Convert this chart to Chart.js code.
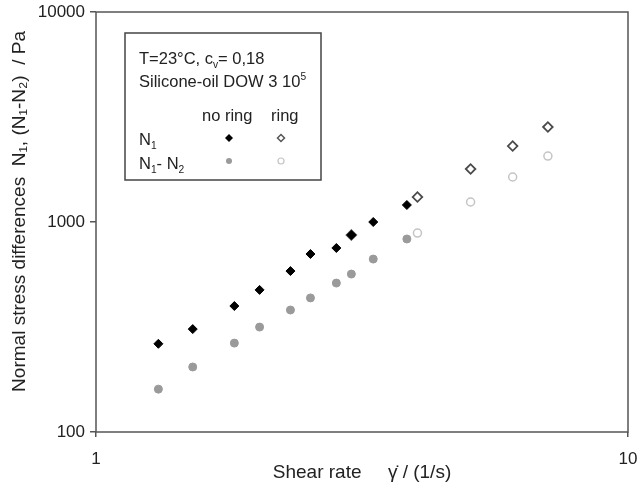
<!DOCTYPE html>
<html>
<head>
<meta charset="utf-8">
<script src="https://cdn.jsdelivr.net/npm/chart.js@4.4.0/dist/chart.umd.min.js"></script>
<style>
  html, body { margin: 0; padding: 0; background: #fff; }
  #wrap { width: 640px; height: 488px; }
</style>
</head>
<body>
<div id="wrap"><canvas id="chart"></canvas></div>
<script>
// shear rate (1/s) and normal stress differences (Pa)
const shearNoRing = [1.31, 1.52, 1.82, 2.03, 2.32, 2.53, 2.83, 3.02, 3.32, 3.84];
const n1NoRing    = [263, 309, 398, 475, 584, 704, 752, 867, 1000, 1205];
const n12NoRing   = [160, 204, 265, 316, 381, 435, 512, 565, 666, 830];

const shearRingN1  = [3.02, 4.02, 5.06, 6.07, 7.07];
const n1Ring       = [867, 1315, 1788, 2300, 2834];
const shearRingN12 = [4.02, 5.06, 6.07, 7.07];
const n12Ring      = [886, 1245, 1638, 2061];

const xTicks = [1, 10];
const yTicks = [100, 1000, 10000];

const FONT = '"Liberation Sans", Arial, sans-serif';
const TXT = '#222';
const AXIS = '#555';

function pts(xs, ys) {
    return xs.map((x, i) => ({ x: x, y: ys[i] }));
}

// draws a line of text made of normal / sub / superscript runs
function drawRuns(ctx, x, y, runs, size) {
    runs.forEach(r => {
        const s = r.small ? size * 0.62 : size;
        ctx.font = s + 'px ' + FONT;
        ctx.fillText(r.t, x, y + (r.dy || 0));
        x += ctx.measureText(r.t).width;
    });
}

const frameAndLegend = {
    id: 'frameAndLegend',
    afterDraw(chart) {
        const ctx = chart.ctx;
        const a = chart.chartArea;
        ctx.save();

        // plot frame
        ctx.strokeStyle = AXIS;
        ctx.lineWidth = 1.5;
        ctx.strokeRect(a.left, a.top, a.right - a.left, a.bottom - a.top);

        // legend box
        const x0 = a.left + 29, y0 = a.top + 21;
        ctx.strokeStyle = '#444';
        ctx.lineWidth = 1.5;
        ctx.strokeRect(x0, y0, 196, 147);

        ctx.fillStyle = TXT;
        ctx.textBaseline = 'alphabetic';
        const fs = 16.5;
        drawRuns(ctx, x0 + 14, y0 + 31, [
            { t: 'T=23°C, c' }, { t: 'v', small: true, dy: 4 }, { t: '= 0,18' }
        ], fs);
        drawRuns(ctx, x0 + 14, y0 + 54, [
            { t: 'Silicone-oil DOW 3 10' }, { t: '5', small: true, dy: -7 }
        ], fs);
        drawRuns(ctx, x0 + 77, y0 + 88, [{ t: 'no ring' }], fs);
        drawRuns(ctx, x0 + 146, y0 + 88, [{ t: 'ring' }], fs);
        drawRuns(ctx, x0 + 14, y0 + 112, [
            { t: 'N' }, { t: '1', small: true, dy: 4 }
        ], fs);
        drawRuns(ctx, x0 + 14, y0 + 136, [
            { t: 'N' }, { t: '1', small: true, dy: 4 }, { t: '- N' }, { t: '2', small: true, dy: 4 }
        ], fs);

        // legend symbols
        const cx1 = x0 + 104, cx2 = x0 + 156;
        const r1 = y0 + 105, r2 = y0 + 128;
        const diamond = (x, y, r) => {
            ctx.beginPath();
            ctx.moveTo(x - r, y); ctx.lineTo(x, y - r);
            ctx.lineTo(x + r, y); ctx.lineTo(x, y + r);
            ctx.closePath();
        };
        diamond(cx1, r1, 4);
        ctx.fillStyle = '#000'; ctx.fill();
        diamond(cx2, r1, 3.5);
        ctx.fillStyle = '#fff'; ctx.fill();
        ctx.strokeStyle = '#555'; ctx.lineWidth = 1.5; ctx.stroke();
        ctx.beginPath(); ctx.arc(cx1, r2, 3, 0, Math.PI * 2);
        ctx.fillStyle = '#9a9a9a'; ctx.fill();
        ctx.beginPath(); ctx.arc(cx2, r2, 3, 0, Math.PI * 2);
        ctx.fillStyle = '#fff'; ctx.fill();
        ctx.strokeStyle = '#c4c4c4'; ctx.lineWidth = 1.2; ctx.stroke();

        ctx.restore();
    }
};

new Chart(document.getElementById('chart'), {
    type: 'scatter',
    data: {
        datasets: [
            {
                label: 'N1 no ring',
                data: pts(shearNoRing, n1NoRing),
                pointStyle: 'rectRot',
                pointRadius: 4.5,
                backgroundColor: '#000',
                borderColor: '#000',
                borderWidth: 1
            },
            {
                label: 'N1-N2 no ring',
                data: pts(shearNoRing, n12NoRing),
                pointStyle: 'circle',
                pointRadius: 4,
                backgroundColor: '#9a9a9a',
                borderColor: '#9a9a9a',
                borderWidth: 1
            },
            {
                label: 'N1 ring',
                data: pts(shearRingN1, n1Ring),
                pointStyle: 'rectRot',
                pointRadius: 4.8,
                backgroundColor: '#fff',
                borderColor: '#4a4a4a',
                borderWidth: 1.8
            },
            {
                label: 'N1-N2 ring',
                data: pts(shearRingN12, n12Ring),
                pointStyle: 'circle',
                pointRadius: 4,
                backgroundColor: '#fff',
                borderColor: '#c4c4c4',
                borderWidth: 1.5
            }
        ]
    },
    options: {
        responsive: true,
        maintainAspectRatio: false,
        animation: false,
        events: [],
        layout: { padding: { top: 12, right: 12, left: 0, bottom: 0 } },
        plugins: {
            legend: { display: false },
            tooltip: { enabled: false }
        },
        scales: {
            x: {
                type: 'logarithmic',
                min: 1,
                max: 10,
                afterBuildTicks: s => { s.ticks = xTicks.map(v => ({ value: v })); },
                afterFit: s => { s.height = 56; s.paddingLeft = 0; s.paddingRight = 0; },
                border: { display: false },
                grid: { drawOnChartArea: false, drawTicks: true, tickLength: 5, color: AXIS, lineWidth: 1.5 },
                ticks: {
                    color: TXT,
                    font: { family: FONT, size: 17 },
                    padding: 12,
                    maxRotation: 0,
                    callback: v => String(v)
                },
                title: {
                    display: true,
                    text: 'Shear rate     γ̇ / (1/s)',
                    color: TXT,
                    font: { family: FONT, size: 19 },
                    padding: { top: 0, bottom: 4 }
                }
            },
            y: {
                type: 'logarithmic',
                min: 100,
                max: 10000,
                afterBuildTicks: s => { s.ticks = yTicks.map(v => ({ value: v })); },
                afterFit: s => { s.width = 96; s.paddingTop = 0; s.paddingBottom = 0; },
                border: { display: false },
                grid: { drawOnChartArea: false, drawTicks: true, tickLength: 6, color: AXIS, lineWidth: 1.5 },
                ticks: {
                    color: TXT,
                    font: { family: FONT, size: 17 },
                    padding: 5,
                    callback: v => String(v)
                },
                title: {
                    display: true,
                    text: '    Normal stress differences  N₁, (N₁-N₂)  / Pa',
                    color: TXT,
                    font: { family: FONT, size: 19 },
                    padding: { top: 8, bottom: 0 }
                }
            }
        }
    },
    plugins: [frameAndLegend]
});
</script>
</body>
</html>
